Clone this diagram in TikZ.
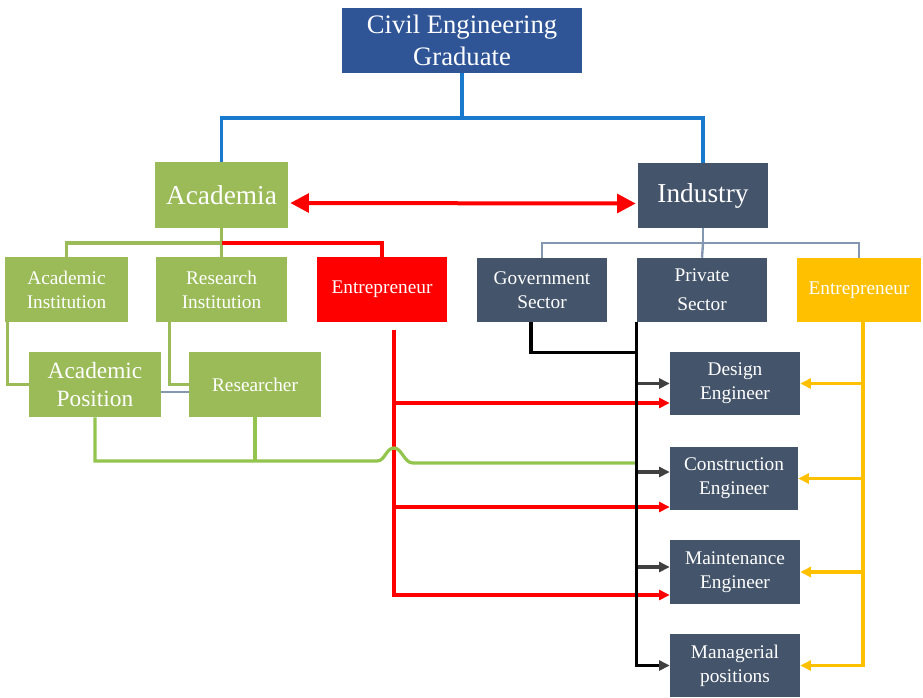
\documentclass[tikz,border=0pt]{standalone}
\usepackage{fontspec}
\setmainfont{Liberation Serif}
\usetikzlibrary{arrows.meta}
\usetikzlibrary{calc}

\definecolor{gradblue}{RGB}{47,85,151}
\definecolor{olive}{RGB}{155,187,89}
\definecolor{slate}{RGB}{68,84,106}
\definecolor{amber}{RGB}{255,192,0}
\definecolor{linkblue}{RGB}{25,122,205}
\definecolor{linkgray}{RGB}{132,151,176}
\definecolor{linkgreen}{RGB}{146,196,78}
\definecolor{arrowgray}{RGB}{64,64,64}

\tikzset{
  box/.style={rectangle, inner sep=0pt, align=center, text=white},
  topbox/.style={box, fill=gradblue, font=\fontsize{20}{24}\selectfont},
  mainbox/.style={box, font=\fontsize{20.5}{24}\selectfont},
  subbox/.style={box, font=\fontsize{14.5}{18}\selectfont},
  small tip/.style={-{Triangle[length=8pt,width=7.5pt]}},
  bluelink/.style={draw=linkblue, line width=2.4pt},
  olivelink/.style={draw=olive, line width=2.4pt},
  graylink/.style={draw=linkgray, line width=1.8pt},
  greenlink/.style={draw=linkgreen, line width=2.4pt},
  redlink/.style={draw=red, line width=2.4pt},
  blacklink/.style={draw=black, line width=2.4pt},
  darkarrow/.style={draw=arrowgray, line width=2.4pt, small tip},
  redarrow/.style={redlink, small tip},
  amberarrow/.style={draw=amber, line width=2.4pt, small tip}
}

\begin{document}
\begin{tikzpicture}[x=0.75pt,y=0.75pt,yscale=-1,xscale=1]
\useasboundingbox (0,0) rectangle (923,697);

% Boxes
\node[topbox, minimum width=180pt, minimum height=48.75pt] (grad) at (462,40.5) {Civil Engineering\\Graduate};
\node[mainbox, fill=olive, minimum width=99.75pt, minimum height=49.5pt] (acad) at (221.5,195) {Academia};
\node[mainbox, fill=slate, minimum width=97.5pt, minimum height=48.75pt] (ind) at (703,195.5) {Industry};

\node[subbox, fill=olive, minimum width=92.25pt, minimum height=48.75pt] (acinst) at (66.5,289.5) {Academic\\Institution};
\node[subbox, fill=olive, minimum width=98.25pt, minimum height=48.75pt] (resinst) at (221.5,289.5) {Research\\Institution};
\node[subbox, fill=red, minimum width=97.5pt, minimum height=48.75pt] (entA) at (382,289.5) {Entrepreneur};
\node[subbox, fill=slate, minimum width=97.5pt, minimum height=48pt] (gov) at (542,290) {Government\\Sector};
\node[subbox, fill=slate, minimum width=97.5pt, minimum height=48pt] (priv) at (702,290) {Private\\[4pt]Sector};
\node[subbox, fill=amber, minimum width=93pt, minimum height=48pt] (entI) at (859,290) {Entrepreneur};

\node[box, fill=olive, font=\fontsize{17.5}{21}\selectfont, minimum width=99pt, minimum height=48.75pt] (acpos) at (95,384.5) {Academic\\Position};
\node[subbox, fill=olive, minimum width=99pt, minimum height=48.75pt] (resr) at (255,384.5) {Researcher};

\node[subbox, fill=slate, minimum width=97.5pt, minimum height=47.25pt] (design) at (735,383.5) {Design\\Engineer};
\node[subbox, fill=slate, minimum width=96pt, minimum height=47.25pt] (constr) at (734,478.5) {Construction\\Engineer};
\node[subbox, fill=slate, minimum width=97.5pt, minimum height=48pt] (maint) at (735,572) {Maintenance\\Engineer};
\node[subbox, fill=slate, minimum width=97.5pt, minimum height=47.25pt] (manag) at (735,665.5) {Managerial\\positions};

% Top level
\coordinate (split) at (462,118);
\draw[bluelink] (grad.south) -- (split);
\draw[bluelink] (acad.north) |- (split) -| (ind.north);
\draw[red, line width=3pt, {Triangle[length=14pt,width=14pt]}-{Triangle[length=14pt,width=14pt]}] ($(acad.east)+(2,8)$) -- ($(ind.west)+(-2,8)$);

% Academia branch
\coordinate (asplit) at (221.5,243);
\draw[olivelink] (acad.south) -- (asplit);
\draw[olivelink] (acinst.north) |- (asplit);
\draw[olivelink] (asplit) -- (resinst.north);
\draw[redlink] (asplit) -| (entA.north);
\draw[olivelink] ($(acinst.south west)+(3,0)$) |- (acpos.west);
\draw[olivelink] ($(resinst.south west)+(14,0)$) |- (resr.west);
\draw[graylink] ($(acpos.east)+(0,7.5)$) -- ($(resr.west)+(0,7.5)$);

% Industry branch
\coordinate (isplit) at (703,243);
\draw[graylink] (ind.south) -- (isplit);
\draw[graylink] (gov.north) |- (isplit) -| (entI.north);
\draw[graylink] (isplit) -- (priv.north);

% Entrepreneur (academia) to jobs
\coordinate (rbus) at ($(entA.south)+(12,8)$);
\foreach \b/\dy in {design/19.5, constr/28.5} {
  \path ($(\b.west)+(0,\dy)$) coordinate (r\b);
  \draw[redarrow] (rbus |- r\b) -- (r\b);
}
\path ($(maint.west)+(0,23)$) coordinate (rmaint);
\draw[redarrow] (rbus) |- (rmaint);

% Academic staff to jobs
\coordinate (pbus) at (priv.south west);
\draw[greenlink] (acpos.south) |- (377,461) .. controls (385,461) and (386,448) .. (394,448) .. controls (402,448) and (404,463) .. (413,463) -- (pbus |- 0,463);
\draw[greenlink] (resr.south) -- (resr.south |- 0,461);

% Sectors to jobs
\draw[blacklink] ($(gov.south)+(-11,0)$) |- ($(pbus)+(0,30)$);
\foreach \b/\dy in {design/0, constr/-6.5, maint/-5} {
  \path ($(\b.west)+(0,\dy)$) coordinate (k\b);
  \draw[darkarrow] (pbus |- k\b) -- (k\b);
}
\draw[blacklink, -{Triangle[length=8pt,width=7.5pt,color=arrowgray]}] (pbus) |- (manag.west);

% Entrepreneur (industry) to jobs
\coordinate (ybus) at ($(entI.south)+(4,0)$);
\foreach \b in {design, constr, maint}
  \draw[amberarrow] (ybus |- \b.east) -- (\b.east);
\draw[amberarrow] (ybus) |- (manag.east);

\end{tikzpicture}
\end{document}
